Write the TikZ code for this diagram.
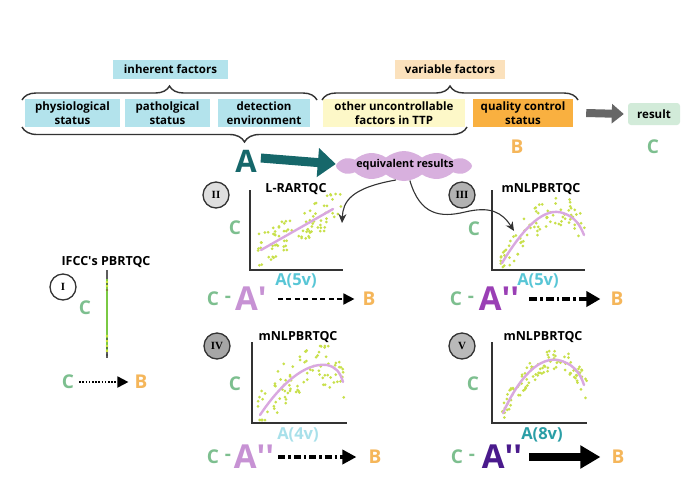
\documentclass[tikz,border=0pt]{standalone}
\usepackage{fontspec}
\setmainfont{Open Sans}
\newfontfamily\numfont{Liberation Serif}
\usetikzlibrary{arrows.meta,decorations.pathreplacing,shapes.symbols,calc}
\definecolor{cyanbox}{HTML}{B3E3EC}
\definecolor{orlight}{HTML}{FBE1BC}
\definecolor{yelbox}{HTML}{FDF8C8}
\definecolor{orbox}{HTML}{F9B040}
\definecolor{grbox}{HTML}{D2EBD9}
\definecolor{bcol}{HTML}{F5B65A}
\definecolor{ccol}{HTML}{7DBF8F}
\definecolor{tealA}{HTML}{16676A}
\definecolor{cloudc}{HTML}{D8B0DE}
\definecolor{alil}{HTML}{C792D4}
\definecolor{apur}{HTML}{9A3FB5}
\definecolor{adark}{HTML}{4A1A8C}
\definecolor{a5v}{HTML}{58C6D6}
\definecolor{a4v}{HTML}{A8E0EA}
\definecolor{a8v}{HTML}{2A9EA6}
\definecolor{dotc}{HTML}{C8E04A}
\definecolor{fitc}{HTML}{D9A8E0}
\definecolor{dk}{HTML}{333333}
\definecolor{grarrow}{HTML}{666666}
\definecolor{linegreen}{HTML}{7AC943}
\newcommand\dotcloud[8]{% seed, n, x0, x1, yformula(\xx), spread, ymin, ymax
  \pgfmathsetseed{#1}%
  \foreach \i in {1,...,#2}{%
    \pgfmathsetmacro\xx{#3+(#4-#3)*rnd}%
    \pgfmathsetmacro\yy{#5+#6*rand}%
    \pgfmathsetmacro\yy{min(max(\yy,#7),#8)}%
    \fill[dotc] (\xx,\yy) circle[radius=1.5pt];
  }}
\begin{document}
\begin{tikzpicture}[x=1pt,y=-1pt,
  every node/.style={inner sep=0pt},
  fbox/.style={rectangle, minimum height=28pt, align=center,
    font=\bfseries\fontsize{11.5}{13.5}\selectfont},
  tbox/.style={rectangle, minimum height=19pt, align=center,
    font=\bfseries\fontsize{11.5}{12}\selectfont},
  brc/.style={draw=dk, line width=1.4pt, decorate},
  numc/.style={circle, draw=dk, line width=1.3pt, minimum size=26pt,
    font=\numfont\bfseries\fontsize{11}{11}\selectfont},
  ttl/.style={font=\bfseries\fontsize{12.5}{12.5}\selectfont},
  axc/.style={font=\bfseries\fontsize{19}{19}\selectfont, text=ccol},
  axl/.style={font=\bfseries\fontsize{16.5}{16.5}\selectfont},
  rowc/.style={font=\bfseries\fontsize{19}{19}\selectfont, text=ccol},
  rowb/.style={font=\bfseries\fontsize{19}{19}\selectfont, text=bcol},
  rowa/.style={font=\bfseries\fontsize{33}{33}\selectfont},
  axis/.style={draw=dk, line width=2pt},
  fit/.style={draw=fitc, line width=2.4pt, line cap=round}]
\useasboundingbox (0,0) rectangle (700,488);
\fill[white] (0,0) rectangle (700,488);

% ---- top boxes
\node[tbox, fill=cyanbox, minimum width=115pt] (inh) at (170.5,69) {inherent factors};
\node[tbox, fill=orlight, minimum width=110pt] (var) at (450,69) {variable factors};
\node[fbox, fill=cyanbox, minimum width=95pt] (phy) at (72.5,113) {physiological\\status};
\node[fbox, fill=cyanbox, minimum width=85pt] (pat) at (167.5,113) {patholgical\\status};
\node[fbox, fill=cyanbox, minimum width=92pt] (det) at (264,113) {detection\\environment};
\node[fbox, fill=yelbox, minimum width=142pt] (oth) at (394,113) {other uncontrollable\\factors in TTP};
\node[fbox, fill=orbox, minimum width=100pt] (qcs) at (523,113) {quality control\\status};
\node[tbox, fill=grbox, minimum width=52pt, minimum height=22pt, rounded corners=3pt] (res) at (654,114) {result};
\draw[grarrow, line width=8pt, -{Triangle[length=12pt,width=19pt]}] (qcs.east) ++(13,0) -- ($(res.west)+(-4,0)$);

% braces
\draw[brc, decoration={brace, amplitude=14pt, aspect=0.5}] (22,100) -- (317,100);
\draw[brc, decoration={brace, amplitude=14pt, aspect=0.5}] (322,100) -- (578,100);
\draw[brc, decoration={brace, amplitude=15pt, aspect=0.5, mirror}] (22,127) -- (467,127);

\node[rowb] (Btop) at (517,147) {B};
\node[rowc] (Ctop) at (653,147) {C};

% big A and cloud
\node[font=\bfseries\fontsize{31}{31}\selectfont, text=tealA] (A) at (246,161) {A};
\node[cloud, cloud puffs=12, cloud puff arc=80, aspect=4.5, fill=cloudc,
      minimum width=136pt, minimum height=30pt] (cloud) at (404,166) {};
\node[font=\bfseries\fontsize{10.8}{10.8}\selectfont] (eqt) at (405,165) {equivalent results};
\draw[tealA, line width=9pt, -{Triangle[length=18pt,width=28pt]}] ($(A.east)+(4,-3)$) -- ($(cloud.west)+(0,-2)$);

% ---- panel II
\node[numc, fill=gray!25] (n2) at (216,195) {II};
\node[ttl] (t2) at (296,189) {L-RARTQC};
\dotcloud{11}{90}{258}{343}{250-0.55*(\xx-261)}{18}{194}{267}
\draw[fit] (261,250) -- (333,209);
\draw[axis] (250,190) -- (250,270) -- (343,270);
\node[axc] (c2) at (235,228) {C};
\node[axl, text=a5v] (x2) at (296,281) {A(5v)};
\node[rowc] (rc2) at (213,299) {C};
\node[rowc] (rd2) at (228,299) {-};
\node[rowa, text=alil] (ra2) at (251,299) {A\textquotesingle};
\node[rowb] (rb2) at (369,299) {B};
\draw[line width=1.8pt, dash pattern=on 5pt off 3.5pt, -{Triangle[length=11pt,width=11pt]}, shorten <=11pt, shorten >=8pt] (ra2.east) -- (rb2.west);

% ---- panel III
\node[numc, fill=gray!60] (n3) at (462,195) {III};
\node[ttl] (t3) at (541,189) {mNLPBRTQC};
\dotcloud{23}{80}{500}{586}{213+ifthenelse(\xx<563,0.0135,0.05)*(\xx-563)*(\xx-563)}{16}{194}{267}
\draw[fit] (502,263) .. controls (525,225) and (545,207) .. (563,213) .. controls (575,217) and (580,225) .. (584,235);
\draw[axis] (492,190) -- (492,270) -- (585,270);
\node[axc] (c3) at (474,229) {C};
\node[axl, text=a5v] (x3) at (538,281) {A(5v)};
\node[rowc] (rc3) at (456,299) {C};
\node[rowc] (rd3) at (471,299) {-};
\node[rowa, text=apur] (ra3) at (499,299) {A\textquotesingle\textquotesingle};
\node[rowb] (rb3) at (617,299) {B};
\draw[line width=4pt, dash pattern=on 8pt off 3pt on 2.5pt off 3pt, -{Triangle[length=14pt,width=15pt]}, shorten <=10pt, shorten >=10pt] (ra3.east) -- (rb3.west);

% connectors from cloud
\coordinate (e2) at (342,223);
\coordinate (e3) at (514,231);
\draw[dk, line width=1.1pt, -{Stealth[length=9pt,width=8pt]}] (cloud.240) .. controls (350,188) and (343,202) .. (e2);
\draw[dk, line width=1.1pt, -{Stealth[length=9pt,width=8pt]}] (cloud.292) .. controls (420,215) and (440,218) .. (465,212) .. controls (490,206) and (502,212) .. (e3);

% ---- panel IV
\node[numc, fill=gray!70] (n4) at (217,346) {IV};
\node[ttl] (t4) at (298,337) {mNLPBRTQC};
\dotcloud{37}{90}{258}{346}{365+ifthenelse(\xx<327,0.011,0.067)*(\xx-327)*(\xx-327)}{22}{346}{420}
\draw[fit] (260,415) .. controls (280,385) and (305,362) .. (327,365) .. controls (336,367) and (340,372) .. (343,382);
\draw[axis] (252,342) -- (252,423) -- (347,423);
\node[axc] (c4) at (235,384) {C};
\node[axl, text=a4v] (x4) at (298,435) {A(4v)};
\node[rowc] (rc4) at (213,457) {C};
\node[rowc] (rd4) at (228,457) {-};
\node[rowa, text=alil] (ra4) at (254,457) {A\textquotesingle\textquotesingle};
\node[rowb] (rb4) at (375,457) {B};
\draw[line width=3.5pt, dash pattern=on 7pt off 3pt on 2.5pt off 3pt, -{Triangle[length=14pt,width=14pt]}, shorten <=4pt, shorten >=12pt] (ra4.east) -- (rb4.west);

% ---- panel V
\node[numc, fill=gray!55] (n5) at (462,346) {V};
\node[ttl] (t5) at (543,337) {mNLPBRTQC};
\dotcloud{53}{100}{502}{587}{360+ifthenelse(\xx<558,0.0169,0.037)*(\xx-558)*(\xx-558)}{11}{346}{420}
\draw[fit] (503,413) .. controls (520,375) and (540,357) .. (558,360) .. controls (572,363) and (580,372) .. (584,385);
\draw[axis] (492,342) -- (492,423) -- (587,423);
\node[axc] (c5) at (473,384) {C};
\node[axl, text=a8v] (x5) at (542,435) {A(8v)};
\node[rowc] (rc5) at (457,457) {C};
\node[rowc] (rd5) at (472,457) {-};
\node[rowa, text=adark] (ra5) at (502,457) {A\textquotesingle\textquotesingle};
\node[rowb] (rb5) at (618,457) {B};
\draw[line width=8pt, -{Triangle[length=20pt,width=22pt]}, shorten <=7pt, shorten >=11pt] (ra5.east) -- (rb5.west);

% ---- panel I
\node[ttl] (t1) at (106,262) {IFCC\textquotesingle s PBRTQC};
\node[numc, fill=white] (n1) at (63,287) {I};
\node[axc] (c1) at (85,308) {C};
\draw[line width=2.6pt, dk!80] (107,270) -- (107,358);
\draw[line width=2.6pt, linegreen] (107,279) -- (107,352);
\foreach \yy in {282,286,290,336,341,346,351} \fill[dotc!80!yellow] (107,\yy) circle[radius=1.4pt];
\foreach \yy in {284,290,339,348,355} \fill[dk] (107,\yy) circle[radius=0.9pt];
\node[rowc] (rc1) at (68,382) {C};
\node[rowb] (rb1) at (141,382) {B};
\draw[line width=1.8pt, dash pattern=on 1.6pt off 1.6pt, -{Triangle[length=11pt,width=11pt]}, shorten <=5pt, shorten >=6pt] (rc1.east) -- (rb1.west);
\end{tikzpicture}
\end{document}
